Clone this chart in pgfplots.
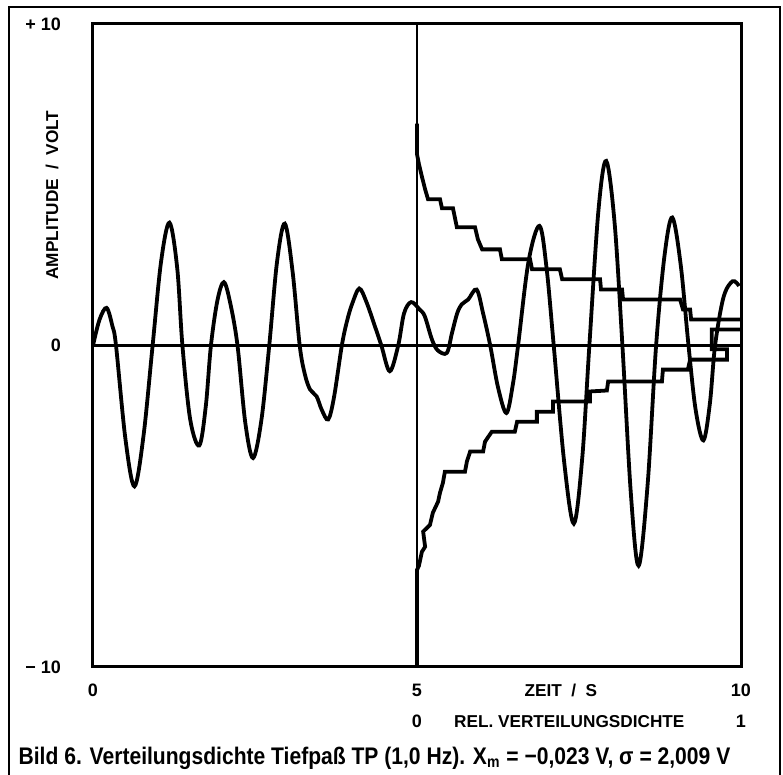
\documentclass[border=0pt]{standalone}
\usepackage{fontspec}
\setmainfont{Liberation Sans}
\newfontfamily\capfont[FakeStretch=0.878]{Liberation Sans}
\usepackage{pgfplots}
\pgfplotsset{compat=1.18}

\begin{document}
\begin{tikzpicture}[x=1pt,y=1pt]
\useasboundingbox (-46.5,-54) rectangle (345,333.5);
% outer frame
\draw[line width=1pt] (-42,-54) -- (-42,330) -- (343.5,330) -- (343.5,-54);

% time signal
\begin{axis}[at={(0,0)}, anchor=south west, scale only axis,
  width=324pt, height=321.5pt,
  xmin=0, xmax=10, ymin=-10, ymax=10,
  axis line style={line width=1.5pt},
  major tick length=0pt,
  xtick={0,5,10}, ytick={-10,0,10},
  yticklabels={{−\ 10},0,{+\ 10}},
  /pgf/number format/assume math mode=true,
  tick label style={font=\bfseries\fontsize{9}{10}\selectfont},
  xticklabel style={anchor=base, yshift=-14.9pt},
  yticklabel style={anchor=east, xshift=-12.5pt},
  xlabel={ZEIT \ / \ S},
  xlabel style={font=\bfseries\fontsize{8.6}{10}\selectfont, at={(axis description cs:0.722,0)}, anchor=base, yshift=-14.9pt},
  ylabel={AMPLITUDE \ / \ VOLT},
  ylabel style={font=\bfseries\fontsize{8.6}{10}\selectfont, at={(axis description cs:-0.0633,0.734)}, anchor=center},
  clip=false]
\draw[line width=1.2pt] (axis cs:0,0) -- (axis cs:10,0);
\draw[line width=1.3pt] (axis cs:5,-10) -- (axis cs:5,10);
\addplot[black, line width=1.9pt, smooth, tension=0.55] coordinates {
(0,0) (0.1,0.8) (0.21,1.17) (0.3,0.6) (0.355,0) (0.5,-2.9) (0.64,-4.38) (0.78,-2.8) (0.92,0)
(1.05,2.6) (1.18,3.82) (1.3,2.4) (1.38,0) (1.5,-2.3) (1.64,-3.11) (1.74,-1.9) (1.82,0)
(1.92,1.4) (2.02,1.97) (2.12,1.3) (2.23,0) (2.35,-2.4) (2.47,-3.5) (2.6,-2.3) (2.72,0)
(2.84,2.6) (2.96,3.79) (3.08,2.3) (3.19,0) (3.27,-0.9) (3.35,-1.37) (3.45,-1.58) (3.53,-2.0)
(3.63,-2.3) (3.72,-1.6) (3.84,0) (3.92,0.76) (4.0,1.3) (4.11,1.77) (4.22,1.35) (4.35,0.6)
(4.45,0) (4.58,-0.8) (4.71,0) (4.8,1.0) (4.91,1.35) (5.04,1.12) (5.12,0.91) (5.23,0.19)
(5.32,-0.15) (5.46,-0.23) (5.54,0.39) (5.62,1.0) (5.69,1.28) (5.79,1.43) (5.92,1.74)
(6.02,1.0) (6.13,0) (6.25,-1.3) (6.38,-2.1) (6.48,-1.2) (6.56,0) (6.72,2.6) (6.89,3.72)
(7.0,2.4) (7.11,0) (7.27,-3.6) (7.42,-5.54) (7.55,-3.5) (7.66,0) (7.8,4.2) (7.92,5.74)
(8.05,3.8) (8.17,0) (8.3,-4.6) (8.42,-6.85) (8.56,-4.3) (8.69,0) (8.82,2.8) (8.94,3.98)
(9.07,2.5) (9.19,0) (9.3,-2.0) (9.42,-2.95) (9.52,-1.8) (9.6,0) (9.73,1.5) (9.87,2.0) (9.97,1.85)
};
\end{axis}

% relative distribution density
\begin{axis}[at={(0,0)}, anchor=south west, scale only axis,
  width=324pt, height=321.5pt,
  xmin=-1, xmax=1, ymin=-10, ymax=10,
  axis line style={draw=none},
  major tick length=0pt,
  xtick={0,1}, ytick=\empty,
  /pgf/number format/assume math mode=true,
  tick label style={font=\bfseries\fontsize{9}{10}\selectfont},
  xticklabel style={anchor=base, yshift=-30.5pt},
  xlabel={REL. VERTEILUNGSDICHTE},
  xlabel style={font=\bfseries\fontsize{8.6}{10}\selectfont, at={(axis description cs:0.735,0)}, anchor=base, yshift=-30.5pt},
  clip=false]
\addplot[black, line width=1.9pt] coordinates {
(0,6.9) (0,5.95) (0.006,5.64) (0.015,5.26) (0.025,4.86) (0.034,4.55) (0.071,4.55)
(0.077,4.27) (0.111,4.27) (0.123,3.68) (0.179,3.68) (0.188,3.30) (0.201,2.99) (0.256,2.99)
(0.262,2.68) (0.349,2.68) (0.355,2.37) (0.441,2.37) (0.448,2.06) (0.565,2.06) (0.568,1.74)
(0.633,1.74) (0.636,1.43) (0.812,1.43) (0.821,1.12) (0.843,1.12) (0.846,0.81) (1.0,0.81)
};
\addplot[black, line width=1.9pt] coordinates {
(0,-9.97) (0,-6.98) (0.006,-6.85) (0.015,-6.42) (0.025,-6.26) (0.019,-5.79) (0.040,-5.58)
(0.049,-5.20) (0.065,-4.86) (0.071,-4.58) (0.080,-4.27) (0.086,-3.93) (0.148,-3.93)
(0.154,-3.61) (0.164,-3.30) (0.204,-3.30) (0.210,-2.99) (0.231,-2.68) (0.302,-2.68)
(0.309,-2.37) (0.370,-2.37) (0.370,-2.06) (0.420,-2.06) (0.420,-1.74) (0.534,-1.74)
(0.534,-1.43) (0.586,-1.40) (0.590,-1.12) (0.756,-1.12) (0.759,-0.75) (0.836,-0.75)
(0.843,-0.44) (0.957,-0.44) (0.957,-0.12) (0.910,-0.12) (0.910,0.50) (1.0,0.50)
};
\end{axis}

\node[anchor=base, font=\capfont\bfseries\fontsize{12}{14}\selectfont] at (140.75,-48.7)
  {Bild 6. Verteilungsdichte Tiefpaß TP (1,0 Hz). X\textsubscript{m} = −0,023 V, σ = 2,009 V};
\end{tikzpicture}
\end{document}
